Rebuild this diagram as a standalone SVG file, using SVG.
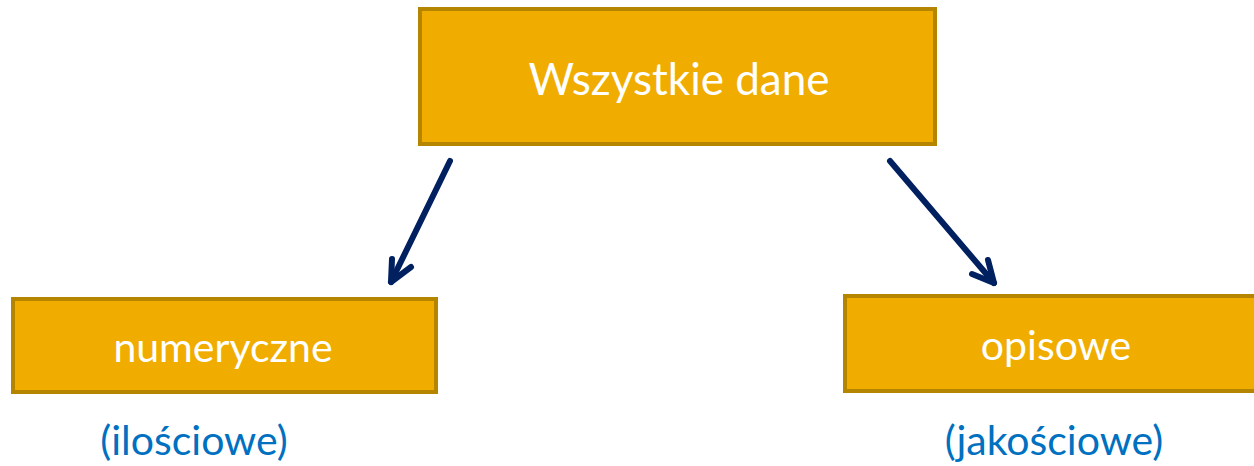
<svg xmlns="http://www.w3.org/2000/svg" width="1254" height="466" viewBox="0 0 1254 466">
<style>
.box{fill:#F0AD00;stroke:#B58500;stroke-width:4}
.lbl{font-family:"Lato","Noto Sans",sans-serif;fill:#FFFFFF;text-anchor:middle}
.sub{font-family:"Lato","Noto Sans",sans-serif;fill:#0070C0;text-anchor:middle;font-size:41px}
.conn{stroke:#002060;stroke-width:6;stroke-linecap:round;fill:none}
</style>
<rect width="1254" height="466" fill="#FFFFFF"/>
<g id="connectors">
<path class="conn" d="M450,161 L391,282"/>
<path class="conn" d="M391,282 L392,259 M391,282 L411,267"/>
<path class="conn" d="M890,161 L994,283"/>
<path class="conn" d="M994,283 L988,260 M994,283 L972,274"/>
</g>
<g id="node-all">
<rect class="box" x="420" y="9" width="515" height="135"/>
<text class="lbl" x="679" y="95" font-size="44">Wszystkie dane</text>
</g>
<g id="node-numeryczne">
<rect class="box" x="13" y="299" width="423" height="93"/>
<text class="lbl" x="223" y="362" font-size="41">numeryczne</text>
</g>
<g id="node-opisowe">
<rect class="box" x="845" y="296" width="420" height="95"/>
<text class="lbl" x="1056" y="360" font-size="41">opisowe</text>
</g>
<g id="label-ilosciowe">
<text class="sub" x="194" y="455">(ilościowe)</text>
</g>
<g id="label-jakosciowe">
<text class="sub" x="1054" y="455">(jakościowe)</text>
</g>
</svg>
